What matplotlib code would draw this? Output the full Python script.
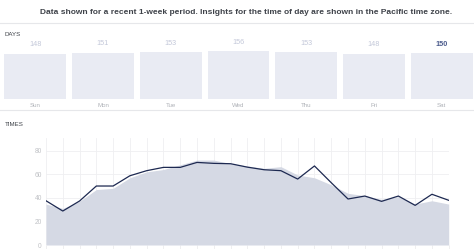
import matplotlib.pyplot as plt
import numpy as np

plt.rcParams["font.family"] = ["Liberation Sans", "DejaVu Sans"]

# data
days = ["Sun", "Mon", "Tue", "Wed", "Thu", "Fri", "Sat"]
day_values = [148, 151, 153, 156, 153, 148, 150]
hours = list(range(25))
line_values = [37.5, 28.8, 37.3, 50, 50, 58.7, 63, 65.8, 65.8, 70, 69.2, 68.9, 66,
               63.8, 63, 55.9, 67, 52.8, 39, 41.5, 37, 41.5, 33.6, 43, 37.9]
area_values = [34.7, 31, 37, 47, 48, 57, 62, 64, 68, 72, 72, 69, 67,
               65, 66.4, 59.3, 57, 51, 43.8, 41.8, 38.7, 41, 34.7, 37.5, 34.7]
time_ticks = [0, 20, 40, 60, 80]

W, H = 474, 249
fig = plt.figure(figsize=(W / 100, H / 100), dpi=100)


def box(x0, y0, x1, y1):
    # pixel box (top-left origin) -> figure fraction
    return [x0 / W, 1 - y1 / H, (x1 - x0) / W, (y1 - y0) / H]


fig.text(246.5 / W, 1 - 12 / H, "Data shown for a recent 1-week period. Insights for the time of day "
         "are shown in the Pacific time zone.", ha="center", va="center",
         fontsize=6.0, fontweight="bold", color="#3e4249")

# separators
for yy in (23.5, 110):
    fig.add_artist(plt.Line2D([0, 1], [1 - yy / H] * 2, color="#e6e7ea", lw=0.8))

fig.text(4.5 / W, 1 - 35 / H, "DAYS", fontsize=4.4, color="#3e4249", va="center")
fig.text(4.5 / W, 1 - 124 / H, "TIMES", fontsize=4.4, color="#3e4249", va="center")

# days bars
ax1 = fig.add_axes(box(1.4, 40, 475.6, 99))
x = np.arange(len(days))
ax1.bar(x, day_values, width=0.915, color="#e9ebf3")
ax1.set_xlim(-0.5, 6.5)
ax1.set_ylim(0, 59 / 0.305)
for i, v in enumerate(day_values):
    last = i == len(days) - 1
    ax1.annotate(str(v), (i, v), xytext=(0, 6.5), textcoords="offset points",
                 ha="center", va="center", fontsize=5.2,
                 color="#4b5b8c" if last else "#c3c8d9",
                 fontweight="bold" if last else "normal")
ax1.set_xticks(x)
ax1.set_xticklabels(days, fontsize=4.4, color="#aeb1b7")
ax1.tick_params(axis="x", length=0, pad=3)
ax1.set_yticks([])
for s in ax1.spines.values():
    s.set_visible(False)

# times chart
ax2 = fig.add_axes(box(46, 138, 448.7, 245))
ax2.fill_between(hours, area_values, color="#d5d9e4", lw=0)
ax2.plot(hours, line_values, color="#1d2951", lw=0.9)
ax2.set_xlim(0, 24)
ax2.set_ylim(0, 90.7)
ax2.set_xticks(hours)
ax2.set_xticklabels([])
ax2.set_yticks(time_ticks)
ax2.tick_params(axis="y", length=0, pad=3, labelsize=4.8, labelcolor="#c0c2c6")
ax2.tick_params(axis="x", length=3, color="#ececee", width=0.6)
ax2.grid(True, color="#efeff1", lw=0.6)
ax2.set_axisbelow(True)
for s in ax2.spines.values():
    s.set_visible(False)

fig.savefig("out.png", dpi=100)
